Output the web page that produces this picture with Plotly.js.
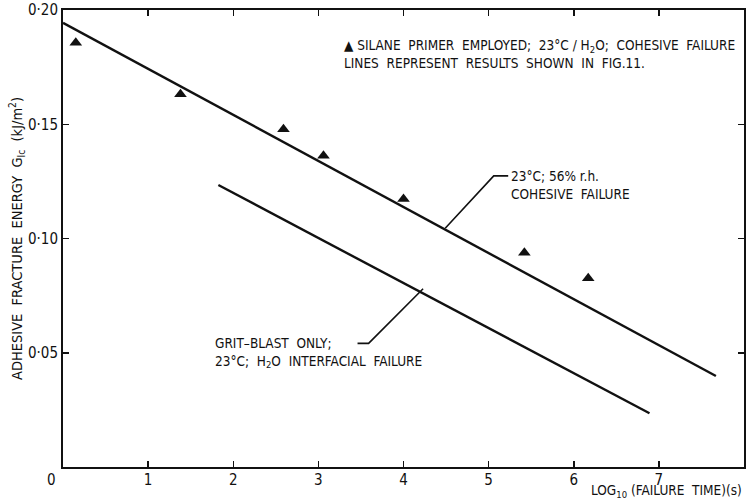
<!DOCTYPE html>
<html>
<head>
<meta charset="utf-8">
<script src="https://cdn.plot.ly/plotly-3.0.1.min.js"></script>
<style>html,body{margin:0;padding:0;background:#fff;}#chart{width:748px;height:499px;}</style>
</head>
<body>
<div id="chart"></div>
<script>
// Data
var silaneX = [0.15, 1.38, 2.59, 3.06, 4.00, 5.42, 6.17];
var silaneY = [0.1857, 0.1631, 0.1478, 0.1362, 0.1173, 0.0938, 0.0826];

var humidX = [0, 3.0, 7.67];            // 23°C; 56% r.h. cohesive failure line
var humidY = [0.1944, 0.1338, 0.0398];

var gritX = [1.825, 6.89];              // grit-blast only interfacial failure line
var gritY = [0.1234, 0.0235];

var leaderUpX = [4.49, 5.06, 5.23];
var leaderUpY = [0.1045, 0.1274, 0.1274];
var leaderLowX = [3.46, 3.59, 4.23];
var leaderLowY = [0.0541, 0.0541, 0.0780];

var xTickVals = [1, 2, 3, 4, 5, 6, 7];
var xTickText = ["1", "2", "3", "4", "5", "6", "7"];
var yTickVals = [0.05, 0.10, 0.15, 0.20];
var yTickText = ["0·05", "0·10", "0·15", "0·20"];
var originLabel = "0";

var FONT = "'Liberation Sans Narrow', 'DejaVu Sans Condensed', 'Arial Narrow', 'Liberation Sans', sans-serif";
var INK = "#111";

var traces = [
  {x: humidX, y: humidY, mode: "lines", line: {color: INK, width: 2.4}, hoverinfo: "skip"},
  {x: gritX, y: gritY, mode: "lines", line: {color: INK, width: 2.4}, hoverinfo: "skip"},
  {x: leaderUpX, y: leaderUpY, mode: "lines", line: {color: INK, width: 1.6}, hoverinfo: "skip"},
  {x: leaderLowX, y: leaderLowY, mode: "lines", line: {color: INK, width: 1.6}, hoverinfo: "skip"},
  {x: silaneX, y: silaneY, mode: "markers", marker: {symbol: "triangle-up", size: 11, color: INK}}
];

var layout = {
  width: 748, height: 499,
  margin: {l: 63, r: 4, t: 10, b: 32},
  paper_bgcolor: "#fff", plot_bgcolor: "#fff",
  showlegend: false,
  font: {family: FONT, color: INK, size: 14},
  xaxis: {
    range: [0, 8], tickvals: xTickVals, ticktext: xTickText,
    ticks: "inside", ticklen: 6, tickwidth: 1.5, tickcolor: INK,
    showline: true, linewidth: 2, linecolor: INK, mirror: "ticks",
    showgrid: false, zeroline: false, fixedrange: true,
    ticklabelstandoff: -2,
    tickfont: {family: FONT, size: 15, color: INK}
  },
  yaxis: {
    range: [0, 0.20], tickvals: yTickVals, ticktext: yTickText,
    ticks: "inside", ticklen: 6, tickwidth: 1.5, tickcolor: INK,
    showline: true, linewidth: 2, linecolor: INK, mirror: "ticks",
    showgrid: false, zeroline: false, fixedrange: true,
    tickfont: {family: FONT, size: 15, color: INK},
    title: {text: "ADHESIVE  FRACTURE  ENERGY  G<sub>Ic</sub>  (kJ/m<sup>2</sup>)",
            font: {family: FONT, size: 14.5, color: INK}, standoff: 2}
  },
  annotations: [
    {xref: "paper", yref: "paper", x: 0, y: 0, xanchor: "right", yanchor: "top",
     xshift: -5, yshift: -2, text: originLabel, showarrow: false,
     font: {family: FONT, size: 15, color: INK}},
    {xref: "paper", yref: "paper", x: 1, y: 0, xanchor: "right", yanchor: "top",
     yshift: -13, text: "LOG<sub>10</sub> (FAILURE  TIME)(s)", showarrow: false,
     font: {family: FONT, size: 13.5, color: INK}},
    {xref: "x", yref: "y", x: 3.28, y: 0.1808, xanchor: "left", yanchor: "middle", align: "left",
     text: "▲ SILANE  PRIMER  EMPLOYED;  23°C / H<sub>2</sub>O;  COHESIVE  FAILURE<br>LINES  REPRESENT  RESULTS  SHOWN  IN  FIG.11.",
     showarrow: false, font: {family: FONT, size: 13.5, color: INK}},
    {xref: "x", yref: "y", x: 5.24, y: 0.1234, xanchor: "left", yanchor: "middle", align: "left",
     text: "23°C; 56% r.h.<br>COHESIVE  FAILURE",
     showarrow: false, font: {family: FONT, size: 13.5, color: INK}},
    {xref: "x", yref: "y", x: 1.76, y: 0.0501, xanchor: "left", yanchor: "middle", align: "left",
     text: "GRIT–BLAST  ONLY;<br>23°C;  H<sub>2</sub>O  INTERFACIAL  FAILURE",
     showarrow: false, font: {family: FONT, size: 13.5, color: INK}}
  ]
};

Plotly.newPlot("chart", traces, layout, {staticPlot: true, displayModeBar: false});
</script>
</body>
</html>
